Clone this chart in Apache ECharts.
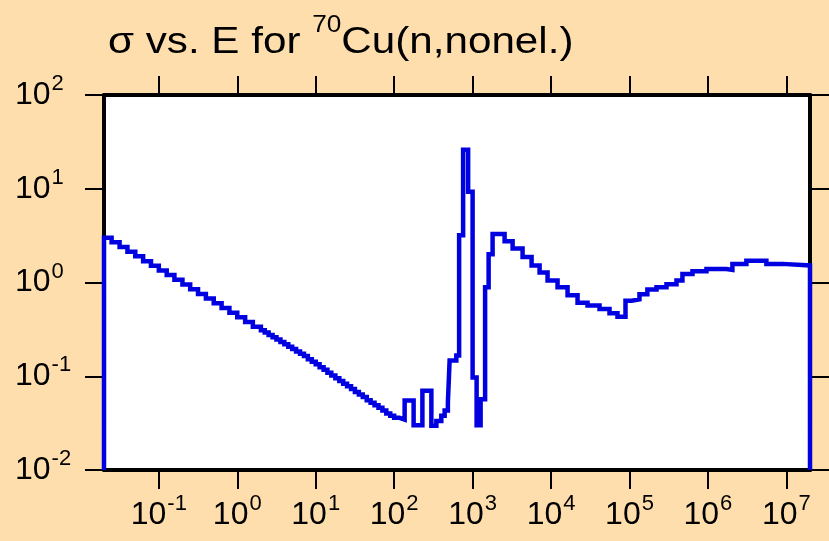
<!DOCTYPE html>
<html>
<head>
<meta charset="utf-8">
<script src="https://cdn.jsdelivr.net/npm/echarts@6/dist/echarts.min.js"></script>
<style>
html,body{margin:0;padding:0;background:#FFDEAD;}
#chart{width:829px;height:541px;}
</style>
</head>
<body>
<div id="chart"></div>
<script>
// Bin left edges (eV) and cross sections (b) for each bin
const energyEdges = [
  0.02, 0.025, 0.0316, 0.0398, 0.0501, 0.0631, 0.0794, 0.1, 0.126, 0.158,
  0.2, 0.251, 0.316, 0.398, 0.501, 0.631, 0.794, 1.0, 1.26, 1.58,
  2.0, 2.24, 2.51, 2.82, 3.16, 3.55, 3.98, 4.47, 5.01, 5.62,
  6.31, 7.08, 7.94, 8.91, 10, 11.2, 12.6, 14.1, 15.8, 17.8,
  20, 22.4, 25.1, 28.2, 31.6, 35.5, 39.8, 44.7, 50.1, 56.2,
  63.1, 70.8, 79.4, 89.1, 100, 117, 136,
  177, 229, 298, 345, 399, 440, 484, 509, 620, 673,
  757, 877, 1000, 1125, 1265, 1443, 1600, 1798, 2557, 3236,
  4335, 5648, 7144, 9025, 12100, 16230, 21770, 29170, 41500, 55600,
  70300, 88900, 106000, 134000, 169000, 221000, 296000, 397000, 473000, 635000,
  957000, 1.72e6, 2.05e6, 3.09e6, 5.56e6, 8.89e6
];
const sigmaValues = [
  3.0, 2.69, 2.39, 2.13, 1.90, 1.69, 1.51, 1.34, 1.20, 1.07,
  0.95, 0.848, 0.756, 0.674, 0.600, 0.535, 0.477, 0.425, 0.379, 0.338,
  0.309, 0.292, 0.276, 0.260, 0.246, 0.232, 0.219, 0.207, 0.195, 0.184,
  0.174, 0.164, 0.152, 0.143, 0.134, 0.125, 0.117, 0.109, 0.102, 0.095,
  0.089, 0.083, 0.078, 0.073, 0.068, 0.064, 0.060, 0.0556, 0.052, 0.049,
  0.046, 0.043, 0.040, 0.038, 0.036, 0.0345, 0.055,
  0.030, 0.070, 0.0296, 0.0334, 0.038, 0.043, 0.0525, 0.147, 0.166, 3.2,
  26, 9.3, 0.097, 0.030, 0.057, 0.89, 2.0, 3.3, 2.75, 2.3,
  1.87, 1.52, 1.28, 1.05, 0.89, 0.73, 0.61, 0.57, 0.52, 0.47,
  0.43, 0.64, 0.66, 0.75, 0.84, 0.89, 0.96, 1.05, 1.23, 1.32,
  1.39, 1.36, 1.58, 1.71, 1.58, 1.52
];
const energyMin = 0.02, energyMax = 2e7;
const sigmaMin = 0.01, sigmaMax = 100;
const xTickExponents = [-1, 0, 1, 2, 3, 4, 5, 6, 7];
const yTickExponents = [-2, -1, 0, 1, 2];
const titleMain = 'σ vs. E for ';
const titleSup = '70';
const titleRest = 'Cu(n,nonel.)';

const FONT = '"Liberation Sans", Arial, Helvetica, sans-serif';
const xTicks = xTickExponents.map(e => Math.pow(10, e));
const yTicks = yTickExponents.map(e => Math.pow(10, e));

const seriesData = [[energyMin, sigmaMin]];
energyEdges.forEach((e, i) => seriesData.push([e, sigmaValues[i]]));
seriesData.push([energyMax, sigmaValues[sigmaValues.length - 1]]);
seriesData.push([energyMax, sigmaMin]);

const expLabel = v => '{b|10}{s|' + Math.round(Math.log10(v)) + '}';
const labelRich = {
  b: {fontSize: 32, lineHeight: 32, verticalAlign: 'middle', fontFamily: FONT, color: '#000'},
  s: {fontSize: 22, lineHeight: 22, verticalAlign: 'middle', padding: [0, 0, 22, 1], fontFamily: FONT, color: '#000'}
};
const frameLine = {show: true, onZero: false, lineStyle: {color: '#000', width: 4}};
const tickStyle = {show: true, inside: false, length: 19, lineStyle: {color: '#000', width: 2}};

const chart = echarts.init(document.getElementById('chart'), null, {renderer: 'canvas'});
chart.setOption({
  animation: false,
  backgroundColor: '#FFDEAD',
  grid: {left: 104, right: 19, top: 95, bottom: 71, show: true, backgroundColor: '#FFFFFF', borderWidth: 0},
  graphic: [{
    type: 'text', left: 108, top: 14, scaleX: 1.14,
    style: {
      text: '{a|' + titleMain + '}{s|' + titleSup + '}{a|' + titleRest + '}',
      rich: {
        a: {fontSize: 37, lineHeight: 37, verticalAlign: 'middle', fontFamily: FONT, fill: '#000'},
        s: {fontSize: 23, lineHeight: 23, verticalAlign: 'middle', padding: [0, 0, 34, 0], fontFamily: FONT, fill: '#000'}
      }
    }
  }],
  xAxis: [{
    type: 'log', logBase: 10, min: energyMin, max: energyMax, position: 'bottom',
    axisLine: frameLine,
    axisTick: Object.assign({customValues: xTicks}, tickStyle),
    minorTick: {show: false}, splitLine: {show: false},
    axisLabel: {customValues: xTicks, formatter: expLabel, margin: 29, rich: labelRich}
  }, {
    type: 'log', logBase: 10, min: energyMin, max: energyMax, position: 'top',
    axisLine: frameLine,
    axisTick: Object.assign({customValues: xTicks}, tickStyle),
    minorTick: {show: false}, splitLine: {show: false},
    axisLabel: {show: false}
  }],
  yAxis: [{
    type: 'log', logBase: 10, min: sigmaMin, max: sigmaMax, position: 'left',
    axisLine: frameLine,
    axisTick: Object.assign({customValues: yTicks}, tickStyle),
    minorTick: {show: false}, splitLine: {show: false},
    axisLabel: {customValues: yTicks, formatter: expLabel, margin: 89, align: 'left', rich: labelRich}
  }, {
    type: 'log', logBase: 10, min: sigmaMin, max: sigmaMax, position: 'right',
    axisLine: frameLine,
    axisTick: Object.assign({customValues: yTicks}, tickStyle),
    minorTick: {show: false}, splitLine: {show: false},
    axisLabel: {show: false}
  }],
  series: [{
    type: 'line', xAxisIndex: 0, yAxisIndex: 0, step: 'end',
    data: seriesData, symbol: 'none',
    lineStyle: {color: '#0000E0', width: 4.5, join: 'miter', cap: 'butt'}
  }]
});
</script>
</body>
</html>
